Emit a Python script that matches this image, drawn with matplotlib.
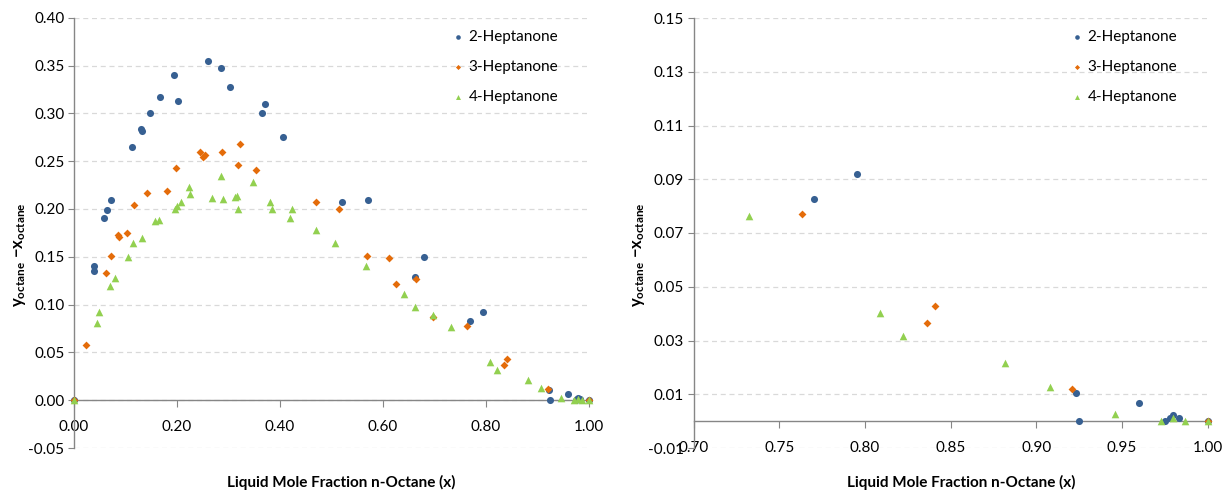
import numpy as np
import matplotlib
matplotlib.use("Agg")
import matplotlib.pyplot as plt
from matplotlib.ticker import FormatStrFormatter

plt.rcParams["font.family"] = ["Lato", "DejaVu Sans"]
plt.rcParams["mathtext.fontset"] = "custom"
plt.rcParams["mathtext.rm"] = "Lato"
plt.rcParams["mathtext.bf"] = "Lato:bold"
plt.rcParams["mathtext.it"] = "Lato:italic"

# Data (liquid mole fraction x, y - x) ---------------------------------
hep2_x = [0.0, 0.039, 0.0395, 0.058, 0.0647, 0.0725, 0.113, 0.130, 0.132,
          0.148, 0.167, 0.194, 0.203, 0.260, 0.285, 0.303, 0.366, 0.371,
          0.407, 0.521, 0.571, 0.663, 0.680, 0.770, 0.7955, 0.923, 0.925,
          0.960, 0.975, 0.978, 0.980, 0.983, 1.0]
hep2_y = [0.0, 0.1346, 0.140, 0.191, 0.199, 0.2095, 0.265, 0.284, 0.281,
          0.300, 0.317, 0.340, 0.313, 0.355, 0.347, 0.328, 0.300, 0.310,
          0.275, 0.207, 0.2095, 0.129, 0.150, 0.0825, 0.092, 0.0105, 0.0,
          0.0067, 0.0, 0.0012, 0.0022, 0.0013, 0.0]

hep3_x = [0.0, 0.024, 0.0616, 0.0725, 0.086, 0.088, 0.1036, 0.116, 0.141,
          0.181, 0.198, 0.2455, 0.251, 0.2546, 0.287, 0.319, 0.322, 0.354,
          0.470, 0.5145, 0.570, 0.612, 0.6265, 0.665, 0.697, 0.763, 0.836,
          0.8407, 0.921, 1.0]
hep3_y = [0.0, 0.058, 0.1325, 0.151, 0.173, 0.171, 0.175, 0.2046, 0.2168,
          0.219, 0.243, 0.260, 0.2547, 0.256, 0.260, 0.2464, 0.268, 0.2405,
          0.207, 0.2004, 0.151, 0.149, 0.1214, 0.127, 0.0865, 0.0772, 0.0366,
          0.0428, 0.0118, 0.0]

hep4_x = [0.0, 0.044, 0.0486, 0.069, 0.080, 0.104, 0.114, 0.132, 0.158,
          0.166, 0.197, 0.200, 0.207, 0.223, 0.2255, 0.268, 0.286, 0.290,
          0.312, 0.317, 0.318, 0.3486, 0.381, 0.384, 0.419, 0.424, 0.471,
          0.5067, 0.5675, 0.642, 0.662, 0.698, 0.732, 0.809, 0.822, 0.8815,
          0.9078, 0.9457, 0.9726, 0.980, 0.987, 1.0]
hep4_y = [0.0, 0.0807, 0.0925, 0.119, 0.128, 0.150, 0.1646, 0.170, 0.187,
          0.1886, 0.200, 0.2035, 0.2077, 0.2234, 0.2158, 0.211, 0.234, 0.210,
          0.213, 0.2134, 0.2004, 0.228, 0.2077, 0.1998, 0.191, 0.2004, 0.1778,
          0.1649, 0.1402, 0.111, 0.0977, 0.089, 0.0765, 0.0402, 0.0317,
          0.0215, 0.0127, 0.0025, 0.0, 0.001, 0.0, 0.0]

series = [
    ("2-Heptanone", hep2_x, hep2_y, "#376092", "o", 26),
    ("3-Heptanone", hep3_x, hep3_y, "#E46C0A", "D", 16),
    ("4-Heptanone", hep4_x, hep4_y, "#92D050", "^", 30),
]

W, H = 1230, 496
fig = plt.figure(figsize=(W / 100, H / 100), dpi=100)


def px_axes(x0, x1, ytop, ybot):
    return fig.add_axes([x0 / W, (H - ybot) / H, (x1 - x0) / W,
                         (ybot - ytop) / H])


ax_l = px_axes(74, 588.5, 17.7, 448)
ax_r = px_axes(693.7, 1207.7, 18, 448)


def style(ax, xlim, ylim, xticks, yticks):
    for name, x, y, c, m, s in series:
        x = np.asarray(x)
        y = np.asarray(y)
        keep = (x >= xlim[0]) & (x <= xlim[1])
        ax.scatter(x[keep], y[keep], s=s, marker=m, color=c, lw=0,
                   label=name, clip_on=False, zorder=3)
    ax.set_xlim(*xlim)
    ax.set_ylim(*ylim)
    ax.set_xticks(xticks)
    ax.set_yticks(yticks)
    ax.xaxis.set_major_formatter(FormatStrFormatter("%.2f"))
    ax.yaxis.set_major_formatter(FormatStrFormatter("%.2f"))
    ax.spines["top"].set_visible(False)
    ax.spines["right"].set_visible(False)
    ax.spines["bottom"].set_position(("data", 0))
    for sp in ("left", "bottom"):
        ax.spines[sp].set_color("#868686")
        ax.spines[sp].set_linewidth(1.0)
    ax.yaxis.grid(True, linestyle=(0, (4, 3)), color="#D9D9D9", lw=0.9)
    ax.set_axisbelow(True)
    ax.tick_params(axis="y", length=4, color="#868686", labelsize=11, pad=3)
    ax.tick_params(axis="x", length=5, color="#868686", labelsize=11, pad=9)
    ax.legend(loc="upper left", bbox_to_anchor=(0.707, 1.0), frameon=False,
              fontsize=11, markerscale=0.65, handletextpad=0.2,
              handlelength=1.0, labelspacing=1.05, borderaxespad=0.4)
    ax.set_xlabel("Liquid Mole Fraction n-Octane (x)", fontsize=11,
                  fontweight="bold")
    ax.set_ylabel(r"$\mathbf{y_{octane}\ {-}x_{octane}}$", fontsize=12)


style(ax_l, (0.0, 1.0), (-0.05, 0.40), np.arange(0, 1.001, 0.2),
      np.arange(-0.05, 0.401, 0.05))
style(ax_r, (0.70, 1.0), (-0.01, 0.15), np.arange(0.70, 1.001, 0.05),
      np.arange(-0.01, 0.151, 0.02))

for ax in (ax_l, ax_r):
    ax.xaxis.set_label_coords(0.52, -0.063)
    ax.yaxis.set_label_coords(-0.09, 0.45)

fig.savefig("out.png", dpi=100)
